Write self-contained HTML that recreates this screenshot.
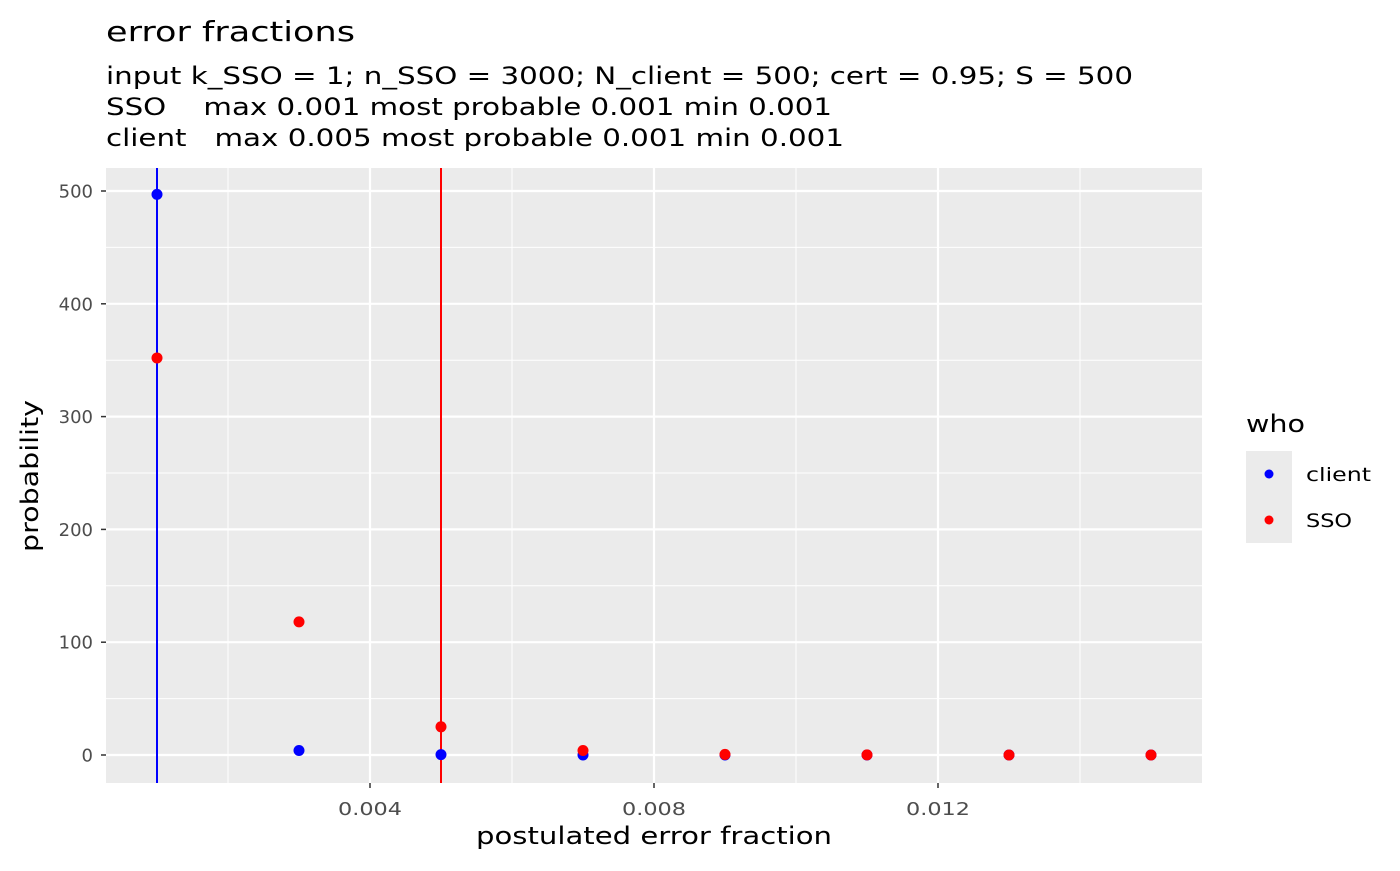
<!DOCTYPE html>
<html><head><meta charset="utf-8"><style>
body{margin:0;background:#fff;}
svg text{font-family:"DejaVu Sans","Liberation Sans",sans-serif;}
</style></head><body>
<svg id="chart" width="1400" height="866" xmlns="http://www.w3.org/2000/svg">
<text x="106" y="41" font-size="28" textLength="249" lengthAdjust="spacingAndGlyphs">error fractions</text>
<text x="106" y="84" font-size="24" textLength="1027" lengthAdjust="spacingAndGlyphs">input k_SSO = 1; n_SSO = 3000; N_client = 500; cert = 0.95; S = 500</text>
<text x="106" y="115" font-size="24" xml:space="preserve" textLength="726" lengthAdjust="spacingAndGlyphs">SSO    max 0.001 most probable 0.001 min 0.001</text>
<text x="106" y="146" font-size="24" xml:space="preserve" textLength="738" lengthAdjust="spacingAndGlyphs">client   max 0.005 most probable 0.001 min 0.001</text>
<rect x="106" y="168" width="1096" height="615" fill="#ebebeb"/>
<g id="grid"></g><g id="marks"></g><g id="axes"></g>
<text x="654" y="844" font-size="24" text-anchor="middle" textLength="356" lengthAdjust="spacingAndGlyphs">postulated error fraction</text>
<text transform="translate(38,476) rotate(-90)" font-size="24" text-anchor="middle" textLength="152" lengthAdjust="spacingAndGlyphs">probability</text>
<text x="1246" y="432" font-size="24" textLength="59" lengthAdjust="spacingAndGlyphs">who</text>
<rect x="1246" y="451" width="46" height="46" fill="#ebebeb"/>
<circle cx="1269" cy="474" r="4.5" fill="#0000ff"/>
<text x="1306" y="481" font-size="19" textLength="65" lengthAdjust="spacingAndGlyphs">client</text>
<rect x="1246" y="497" width="46" height="46" fill="#ebebeb"/>
<circle cx="1269" cy="520" r="4.5" fill="#ff0000"/>
<text x="1306" y="527" font-size="19" textLength="46" lengthAdjust="spacingAndGlyphs">SSO</text>
</svg>
<script>
const xs=[0.001,0.003,0.005,0.007,0.009,0.011,0.013,0.015];
const clientVals=[497,4,0.3,0.02,0,0,0,0];
const ssoVals=[352,118,25,4,0.5,0.1,0.01,0];
const xTicks=[0.004,0.008,0.012];
const xTickLabels=["0.004","0.008","0.012"];
const xMinor=[0.002,0.006,0.010,0.014];
const yTicks=[0,100,200,300,400,500];
const yMinor=[50,150,250,350,450];
const clientLine=0.001, ssoLine=0.005;
const X=v=>370+(v-0.004)*71000;
const Y=v=>755-v*1.128;
const NS="http://www.w3.org/2000/svg";
function mk(p,tag,at){const e=document.createElementNS(NS,tag);for(const k in at)e.setAttribute(k,at[k]);p.appendChild(e);return e;}
const g=document.getElementById('grid'),m=document.getElementById('marks'),a=document.getElementById('axes');
xMinor.forEach(v=>{const l=mk(g,'line',{x1:X(v),x2:X(v),y1:168,y2:783,stroke:'#fff','stroke-width':1});

});
yMinor.forEach(v=>{const l=mk(g,'line',{x1:106,x2:1202,y1:Y(v),y2:Y(v),stroke:'#fff','stroke-width':1});

});
xTicks.forEach((v,i)=>{const l=mk(g,'line',{x1:X(v),x2:X(v),y1:168,y2:783,stroke:'#fff','stroke-width':2.2});


const t=mk(a,'line',{x1:X(v),x2:X(v),y1:783,y2:788,stroke:'#333','stroke-width':1.5});


const tx=mk(a,'text',{x:X(v),y:815,'font-size':18,fill:'#4d4d4d','text-anchor':'middle',textLength:64,lengthAdjust:'spacingAndGlyphs'});tx.textContent=xTickLabels[i];

});
yTicks.forEach(v=>{const l=mk(g,'line',{x1:106,x2:1202,y1:Y(v),y2:Y(v),stroke:'#fff','stroke-width':2.2});


const t=mk(a,'line',{x1:101,x2:106,y1:Y(v),y2:Y(v),stroke:'#333','stroke-width':1.5});


const tx=mk(a,'text',{x:93,y:Y(v)+6.5,'font-size':18,fill:'#4d4d4d','text-anchor':'end'});tx.textContent=String(v);

});
const vb=mk(m,'line',{x1:X(clientLine),x2:X(clientLine),y1:168,y2:783,stroke:'#0000ff','stroke-width':2});


const vr=mk(m,'line',{x1:X(ssoLine),x2:X(ssoLine),y1:168,y2:783,stroke:'#ff0000','stroke-width':2});


xs.forEach((x,i)=>{const c=mk(m,'circle',{cx:X(x),cy:Y(clientVals[i]),r:5.5,fill:'#0000ff'});

});
xs.forEach((x,i)=>{const c=mk(m,'circle',{cx:X(x),cy:Y(ssoVals[i]),r:5.5,fill:'#ff0000'});

});
</script>
</body></html>
